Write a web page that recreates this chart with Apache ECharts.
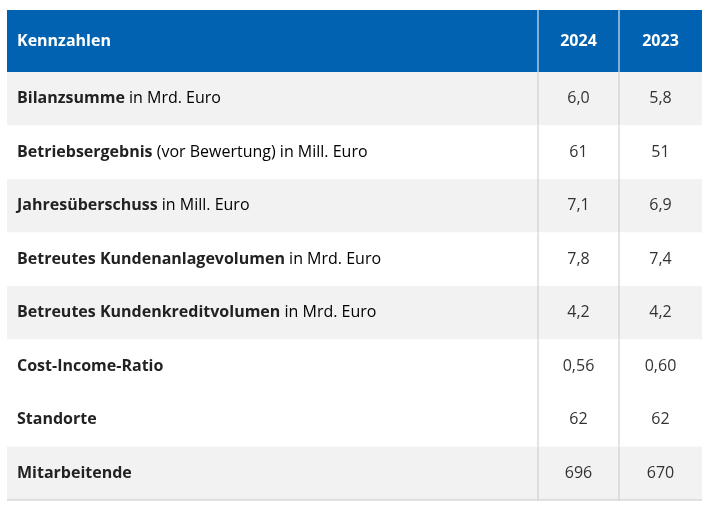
<!DOCTYPE html>
<html><head><meta charset="utf-8">
<script src="https://cdn.jsdelivr.net/npm/echarts@6/dist/echarts.min.js"></script>
<style>html,body{margin:0;padding:0;background:#fff}#c{width:720px;height:515px}</style>
</head><body><div id="c"></div>
<script>
const headers = ['Kennzahlen', '2024', '2023'];
const labelsBold = ['Bilanzsumme', 'Betriebsergebnis', 'Jahresüberschuss', 'Betreutes Kundenanlagevolumen', 'Betreutes Kundenkreditvolumen', 'Cost-Income-Ratio', 'Standorte', 'Mitarbeitende'];
const labelsNormal = [' in Mrd. Euro', ' (vor Bewertung) in Mill. Euro', ' in Mill. Euro', ' in Mrd. Euro', ' in Mrd. Euro', '', '', ''];
const values2024 = ['6,0', '61', '7,1', '7,8', '4,2', '0,56', '62', '696'];
const values2023 = ['5,8', '51', '6,9', '7,4', '4,2', '0,60', '62', '670'];
const shaded = [true, false, true, false, true, false, false, true];

const colEdges = [0, 531, 612, 695];
const H0 = 1.16;
const font = '"Open Sans", "Noto Sans", sans-serif';

const chart = echarts.init(document.getElementById('c'));
const rows = [-1].concat(labelsBold.map((_, i) => i));

chart.setOption({
  animation: false,
  grid: {left: 7, right: 18, top: 10, bottom: 15},
  xAxis: {type: 'value', min: 0, max: 695, show: false},
  yAxis: {type: 'value', min: 0, max: H0 + labelsBold.length, inverse: true, show: false},
  series: [{
    type: 'custom',
    data: rows,
    renderItem: function (params, api) {
      const r = api.value(0);
      const y0 = r < 0 ? 0 : H0 + r, y1 = r < 0 ? H0 : H0 + r + 1;
      const p0 = api.coord([colEdges[0], y0]), p1 = api.coord([colEdges[3], y1]);
      const xa = api.coord([colEdges[1], 0])[0], xb = api.coord([colEdges[2], 0])[0];
      const ym = (p0[1] + p1[1]) / 2;
      const c1 = (xa + xb) / 2, c2 = (xb + p1[0]) / 2;
      const children = [];
      const header = r < 0;
      const fill = header ? '#0062b0' : (shaded[r] ? '#f2f2f2' : '#ffffff');
      children.push({type: 'rect', shape: {x: p0[0], y: p0[1], width: p1[0] - p0[0], height: p1[1] - p0[1]}, style: {fill: fill}});
      const lineCol = header ? '#ffffff' : '#c8c8c8';
      children.push({type: 'line', shape: {x1: xa, y1: p0[1], x2: xa, y2: p1[1]}, style: {stroke: lineCol, lineWidth: 1}});
      children.push({type: 'line', shape: {x1: xb, y1: p0[1], x2: xb, y2: p1[1]}, style: {stroke: lineCol, lineWidth: 1}});
      if (!header && r === labelsBold.length - 1) {
        children.push({type: 'line', shape: {x1: p0[0], y1: p1[1], x2: p1[0], y2: p1[1]}, style: {stroke: '#c8c8c8', lineWidth: 1}});
      }
      if (header) {
        children.push({type: 'text', style: {x: p0[0] + 10, y: ym, text: headers[0], fill: '#fff', font: 'bold 16px ' + font, verticalAlign: 'middle'}});
        children.push({type: 'text', style: {x: c1, y: ym, text: headers[1], fill: '#fff', font: 'bold 16px ' + font, align: 'center', verticalAlign: 'middle'}});
        children.push({type: 'text', style: {x: c2, y: ym, text: headers[2], fill: '#fff', font: 'bold 16px ' + font, align: 'center', verticalAlign: 'middle'}});
      } else {
        children.push({type: 'text', style: {x: p0[0] + 10, y: ym, verticalAlign: 'middle',
          text: '{b|' + labelsBold[r] + '}{n|' + labelsNormal[r] + '}',
          rich: {b: {fontWeight: 'bold', fontSize: 16, fontFamily: font, fill: '#222', color: '#222'},
                 n: {fontSize: 16, fontFamily: font, color: '#333'}}}});
        children.push({type: 'text', style: {x: c1, y: ym, text: values2024[r], fill: '#333', font: '16px ' + font, align: 'center', verticalAlign: 'middle'}});
        children.push({type: 'text', style: {x: c2, y: ym, text: values2023[r], fill: '#333', font: '16px ' + font, align: 'center', verticalAlign: 'middle'}});
      }
      return {type: 'group', children: children};
    }
  }]
});
</script></body></html>
